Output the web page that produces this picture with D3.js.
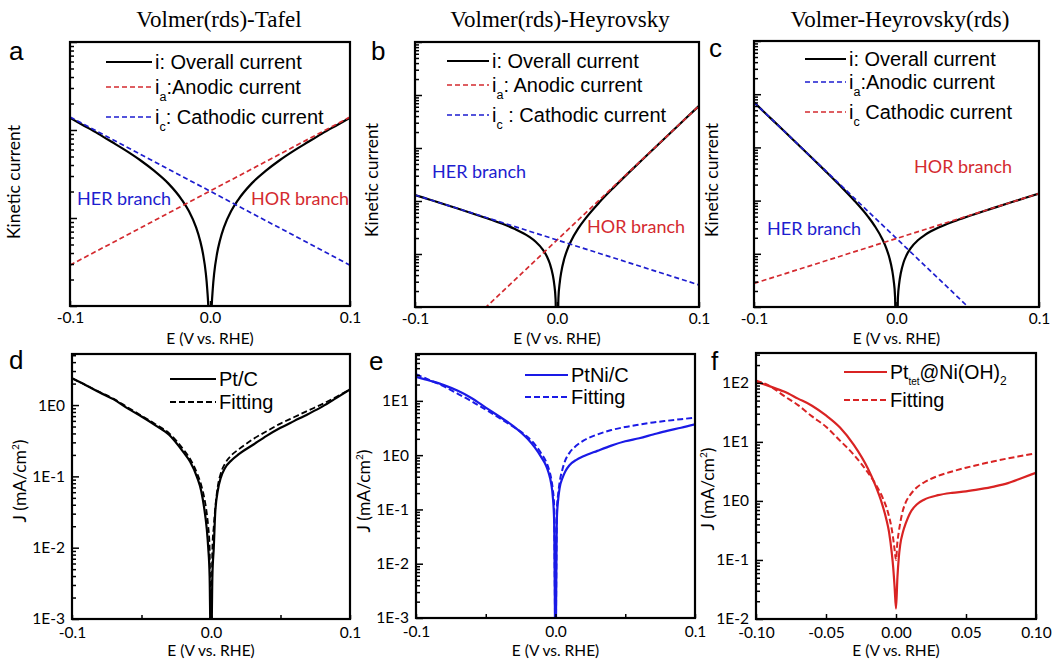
<!DOCTYPE html>
<html>
<head>
<meta charset="utf-8">
<script src="https://cdn.jsdelivr.net/npm/d3@7/dist/d3.min.js"></script>
<style>
  html, body { margin: 0; padding: 0; background: #fff; }
  svg { display: block; }
</style>
</head>
<body>
<svg id="fig" width="1052" height="663"></svg>
<script>
// ---------------- data ----------------
// electrode potential grid, V vs. RHE
const potential = [-0.1, -0.09, -0.08, -0.07, -0.06, -0.05, -0.04, -0.03, -0.02, -0.015, -0.01, -0.007, -0.005, -0.003, -0.002, -0.001, 0,
                   0.001, 0.002, 0.003, 0.005, 0.007, 0.01, 0.015, 0.02, 0.03, 0.04, 0.05, 0.06, 0.07, 0.08, 0.09, 0.1];

// kinetic model currents (arbitrary units)
const tafelOverall = [137.5, 112, 91, 73, 58.3, 45.6, 34.5, 24.9, 16.0, 11.9, 7.88, 5.49, 3.92, 2.36, 1.57, 0.78, 0.01,
                      0.78, 1.57, 2.36, 3.92, 5.49, 7.88, 11.9, 16.0, 24.9, 34.5, 45.6, 58.3, 73, 91, 112, 137.5];
const tafelAnodic = [[-0.1, 2.91], [0.1, 140.4]];
const tafelCathodic = [[-0.1, 140.4], [0.1, 2.91]];

const heyOverall = [129.9, 106.8, 87.8, 72.0, 58.9, 47.9, 38.5, 29.9, 21.5, 17.0, 12.1, 8.87, 6.55, 4.06, 2.76, 1.40, 0.01,
                    1.46, 2.98, 4.56, 7.93, 11.6, 17.8, 30.4, 46.5, 95.4, 180.7, 331.7, 600.8, 1082, 1939, 3478, 6230];
const heyAnodic = [[-0.1, 0.054], [0.1, 6234]];
const heyCathodic = [[-0.1, 130], [0.1, 2.61]];

const heyRdsOverall = [7041, 3904, 2163, 1196, 660.6, 362.3, 196.2, 102.9, 50.0, 32.5, 19.0, 12.4, 8.46, 4.85, 3.17, 1.55, 0.01,
                       1.49, 2.93, 4.31, 6.93, 9.39, 12.81, 17.97, 22.67, 31.5, 40.5, 50.4, 61.9, 75.5, 92.0, 111.9, 136];
const heyRdsAnodic = [[-0.1, 7044], [0.1, 0.0534]];
const heyRdsCathodic = [[-0.1, 2.77], [0.1, 136]];

// polarization data and fits, J in mA/cm2
const ptcMeasured = [2.37, 1.9, 1.5, 1.2, 0.9, 0.69, 0.52, 0.38, 0.22, 0.16, 0.097, 0.062, 0.037, 0.018, 0.01, 0.004, 0.0002,
                     0.004, 0.01, 0.03, 0.065, 0.095, 0.13, 0.17, 0.205, 0.275, 0.37, 0.48, 0.6, 0.75, 0.95, 1.25, 1.66];
const ptcFit = [2.37, 1.9, 1.52, 1.22, 0.93, 0.71, 0.54, 0.4, 0.24, 0.175, 0.11, 0.075, 0.052, 0.03, 0.02, 0.01, 0.0002,
                0.01, 0.02, 0.035, 0.075, 0.11, 0.15, 0.2, 0.24, 0.33, 0.43, 0.55, 0.68, 0.84, 1.03, 1.3, 1.66];

const ptniMeasured = [27.8, 23.5, 19.5, 15.3, 11.2, 7.5, 5.1, 3.4, 2.0, 1.4, 0.9, 0.66, 0.48, 0.29, 0.18, 0.065, 0.0002,
                      0.07, 0.16, 0.25, 0.38, 0.5, 0.65, 0.82, 0.95, 1.2, 1.5, 1.8, 2.05, 2.4, 2.8, 3.2, 3.7];
const ptniFit = [31, 24, 18.5, 13.5, 9.8, 6.9, 4.8, 3.3, 2.15, 1.6, 1.05, 0.78, 0.58, 0.36, 0.24, 0.12, 0.0002,
                 0.1, 0.2, 0.32, 0.55, 0.8, 1.1, 1.5, 1.85, 2.4, 2.9, 3.3, 3.65, 4.0, 4.3, 4.6, 4.9];

const ptNiOHMeasured = [105, 87, 71, 54, 41, 28, 17.5, 8.8, 3.5, 1.9, 0.9, 0.5, 0.3, 0.13, 0.075, 0.035, 0.015,
                        0.05, 0.11, 0.18, 0.3, 0.42, 0.62, 0.88, 1.05, 1.25, 1.37, 1.45, 1.58, 1.75, 2.0, 2.45, 3.0];
const ptNiOHFit = [110, 88, 60, 42, 27, 18, 10.5, 6.0, 3.0, 2.0, 1.2, 0.8, 0.55, 0.33, 0.23, 0.15, 0.1,
                   0.2, 0.3, 0.42, 0.7, 0.95, 1.25, 1.7, 2.05, 2.65, 3.15, 3.65, 4.15, 4.7, 5.25, 5.8, 6.4];

// axis ticks
const xTicksKinetic = [-0.1, 0, 0.1];
const xTicksPolar = [-0.1, -0.05, 0, 0.05, 0.1];

// ---------------- styles ----------------
const SERIF = "'Liberation Serif', 'Times New Roman', serif";
const ARIAL = "'Liberation Sans', Arial, sans-serif";
const HUMAN = "Lato, 'Open Sans', sans-serif";
const RED = "#d42a2f";
const BLUE = "#1d1dcf";
const BLUE_E = "#1a1ae6";
const RED_F = "#d92323";

const svg = d3.select("#fig");
const defs = svg.append("defs");

const withE = vals => d3.zip(potential, vals);
const isDecade = v => Math.abs(Math.log10(v) - Math.round(Math.log10(v))) < 1e-9;

function drawPanel(cfg) {
  const [x0, y0, x1, y1] = cfg.box;
  const g = svg.append("g");
  const x = d3.scaleLinear().domain([-0.1, 0.1]).range([x0, x1]);
  const y = d3.scaleLog().domain(cfg.yDomain).range([y1, y0]);

  defs.append("clipPath").attr("id", "clip-" + cfg.id)
    .append("rect").attr("x", x0).attr("y", y0).attr("width", x1 - x0).attr("height", y1 - y0);

  const plot = g.append("g").attr("clip-path", `url(#clip-${cfg.id})`);
  const line = d3.line().x(d => x(d[0])).y(d => y(d[1])).curve(d3.curveMonotoneX);
  cfg.series.forEach(s => {
    plot.append("path").datum(s.points)
      .attr("d", line)
      .attr("fill", "none")
      .attr("stroke", s.color)
      .attr("stroke-width", s.width)
      .attr("stroke-dasharray", s.dash || null)
      .attr("stroke-linejoin", "round");
  });

  // left axis: inward decade and sub-decade ticks
  const all = y.ticks();
  const majors = all.filter(isDecade);
  const minors = all.filter(v => !isDecade(v));
  const minorAxis = g.append("g").attr("transform", `translate(${x0},0)`)
    .call(d3.axisLeft(y).tickValues(minors).tickSizeInner(-4).tickSizeOuter(0).tickFormat(""));
  const majorAxis = g.append("g").attr("transform", `translate(${x0},0)`)
    .call(d3.axisLeft(y).tickValues(majors).tickSizeInner(-7).tickSizeOuter(0).tickPadding(7)
      .tickFormat(cfg.yLabels ? d => "1E" + Math.round(Math.log10(d)) : ""));

  // bottom axis
  const bottomAxis = g.append("g").attr("transform", `translate(0,${y1})`)
    .call(d3.axisBottom(x).tickValues(cfg.xTicks).tickSizeInner(-cfg.xTickLen).tickSizeOuter(0)
      .tickPadding(cfg.xPad).tickFormat(cfg.xFormat));

  [minorAxis, majorAxis, bottomAxis].forEach(a => {
    a.select(".domain").remove();
    a.selectAll("line").attr("stroke", "#000").attr("stroke-width", 1.5);
    a.selectAll("text").attr("fill", "#000").attr("font-family", HUMAN).attr("font-size", cfg.tickFont);
    a.attr("font-family", HUMAN).attr("font-size", cfg.tickFont);
  });

  // frame
  g.append("rect").attr("x", x0).attr("y", y0).attr("width", x1 - x0).attr("height", y1 - y0)
    .attr("fill", "none").attr("stroke", "#000").attr("stroke-width", 2.2);

  // axis titles
  g.append("text").attr("x", (x0 + x1) / 2).attr("y", cfg.xTitleY)
    .attr("text-anchor", "middle").attr("font-family", HUMAN).attr("font-size", 15.5)
    .text("E (V vs. RHE)");

  const yt = g.append("text").attr("transform", `translate(${cfg.yTitle[0]},${cfg.yTitle[1]}) rotate(-90)`)
    .attr("text-anchor", "middle").attr("font-family", HUMAN).attr("font-size", cfg.yTitleSize);
  if (cfg.yTitleText === "J") {
    yt.append("tspan").text("J (mA/cm");
    yt.append("tspan").attr("dy", -7).attr("font-size", 10).text("2");
    yt.append("tspan").attr("dy", 7).text(")");
  } else {
    yt.text(cfg.yTitleText);
  }

  // panel letter
  g.append("text").attr("x", cfg.letter[0]).attr("y", cfg.letter[1])
    .attr("font-family", ARIAL).attr("font-size", 26).text(cfg.id);

  // legend
  cfg.legend.forEach(r => {
    g.append("line").attr("x1", r.x1).attr("x2", r.x2).attr("y1", r.y).attr("y2", r.y)
      .attr("stroke", r.color).attr("stroke-width", r.width).attr("stroke-dasharray", r.dash || null);
    const t = g.append("text").attr("x", r.x2 + 3).attr("y", r.y + 7.2)
      .attr("font-family", ARIAL).attr("font-size", r.size || 20);
    r.parts.forEach(p => {
      const ts = t.append("tspan").text(p[0]);
      if (p[1] === "sub") ts.attr("dy", p[2] || 7).attr("font-size", p[3] || 12.5);
      if (p[1] === "back") ts.attr("dy", -(p[2] || 7));
    });
  });

  // annotations
  (cfg.notes || []).forEach(n => {
    g.append("text").attr("x", n.x).attr("y", n.y).attr("fill", n.color)
      .attr("font-family", HUMAN).attr("font-size", 18).text(n.text);
  });

  if (cfg.title) {
    g.append("text").attr("x", cfg.title[0]).attr("y", cfg.title[1]).attr("text-anchor", "middle")
      .attr("font-family", SERIF).attr("font-size", 23).text(cfg.title[2]);
  }
}

const fmt1 = d => d.toFixed(1);
const fmtPolar1 = d => (Math.abs(Math.abs(d) - 0.05) < 1e-9 ? "" : d.toFixed(1));
const fmt2 = d => d.toFixed(2);

const DASH_K = "5,3";
const DASH_P = "6,3";

// ---- (a) Volmer(rds)-Tafel ----
drawPanel({
  id: "a", box: [70, 42, 350, 306], yDomain: [1, 1000], yLabels: false,
  xTicks: xTicksKinetic, xTickLen: 5, xPad: 6, xFormat: fmt1, tickFont: 15.5, xTitleY: 344,
  yTitle: [20, 182], yTitleText: "Kinetic current", yTitleSize: 17.5,
  letter: [9, 60], title: [219, 27, "Volmer(rds)-Tafel"],
  series: [
    { points: withE(tafelOverall), color: "#000", width: 2.2 },
    { points: tafelAnodic, color: RED, width: 1.7, dash: DASH_K },
    { points: tafelCathodic, color: BLUE, width: 1.7, dash: DASH_K }
  ],
  legend: [
    { x1: 106, x2: 152, y: 62, color: "#000", width: 2.2, parts: [["i: Overall current"]] },
    { x1: 106, x2: 152, y: 87, color: RED, width: 1.7, dash: DASH_K, parts: [["i"], ["a", "sub"], [":Anodic current", "back"]] },
    { x1: 106, x2: 152, y: 117, color: BLUE, width: 1.7, dash: DASH_K, parts: [["i"], ["c", "sub"], [": Cathodic current", "back"]] }
  ],
  notes: [
    { x: 77, y: 205, color: BLUE, text: "HER branch" },
    { x: 251, y: 205, color: RED, text: "HOR branch" }
  ]
});

// ---- (b) Volmer(rds)-Heyrovsky ----
drawPanel({
  id: "b", box: [415, 42, 699, 307], yDomain: [1, 1e5], yLabels: false,
  xTicks: xTicksKinetic, xTickLen: 5, xPad: 6, xFormat: fmt1, tickFont: 15.5, xTitleY: 344,
  yTitle: [378, 180], yTitleText: "Kinetic current", yTitleSize: 17.5,
  letter: [371, 60], title: [560, 27, "Volmer(rds)-Heyrovsky"],
  series: [
    { points: withE(heyOverall), color: "#000", width: 2.2 },
    { points: heyAnodic, color: RED, width: 1.7, dash: DASH_K },
    { points: heyCathodic, color: BLUE, width: 1.7, dash: DASH_K }
  ],
  legend: [
    { x1: 447, x2: 489, y: 61, color: "#000", width: 2.2, parts: [["i: Overall current"]] },
    { x1: 447, x2: 489, y: 85, color: RED, width: 1.7, dash: DASH_K, parts: [["i"], ["a", "sub"], [": Anodic current", "back"]] },
    { x1: 447, x2: 489, y: 115, color: BLUE, width: 1.7, dash: DASH_K, parts: [["i"], ["c", "sub"], [" : Cathodic current", "back"]] }
  ],
  notes: [
    { x: 432, y: 178, color: BLUE, text: "HER branch" },
    { x: 587, y: 233, color: RED, text: "HOR branch" }
  ]
});

// ---- (c) Volmer-Heyrovsky(rds) ----
drawPanel({
  id: "c", box: [754, 41, 1039, 307], yDomain: [1, 1e5], yLabels: false,
  xTicks: xTicksKinetic, xTickLen: 5, xPad: 6, xFormat: fmt1, tickFont: 15.5, xTitleY: 344,
  yTitle: [718, 180], yTitleText: "Kinetic current", yTitleSize: 17.5,
  letter: [709, 57], title: [900, 27, "Volmer-Heyrovsky(rds)"],
  series: [
    { points: withE(heyRdsOverall), color: "#000", width: 2.2 },
    { points: heyRdsAnodic, color: BLUE, width: 1.7, dash: DASH_K },
    { points: heyRdsCathodic, color: RED, width: 1.7, dash: DASH_K }
  ],
  legend: [
    { x1: 805, x2: 846, y: 59, color: "#000", width: 2.2, parts: [["i: Overall current"]] },
    { x1: 805, x2: 846, y: 82, color: BLUE, width: 1.7, dash: DASH_K, parts: [["i"], ["a", "sub"], [":Anodic current", "back"]] },
    { x1: 805, x2: 846, y: 112, color: RED, width: 1.7, dash: DASH_K, parts: [["i"], ["c", "sub"], ["  Cathodic current", "back"]] }
  ],
  notes: [
    { x: 767, y: 235, color: BLUE, text: "HER branch" },
    { x: 914, y: 173, color: RED, text: "HOR branch" }
  ]
});

// ---- (d) Pt/C ----
drawPanel({
  id: "d", box: [72, 354, 350, 619], yDomain: [1e-3, 5.2], yLabels: true,
  xTicks: xTicksPolar, xTickLen: 4, xPad: 8, xFormat: fmtPolar1, tickFont: 15.5, xTitleY: 656,
  yTitle: [26, 481], yTitleText: "J", yTitleSize: 17.5,
  letter: [9, 369],
  series: [
    { points: withE(ptcMeasured), color: "#000", width: 2.2 },
    { points: withE(ptcFit), color: "#000", width: 1.8, dash: DASH_P }
  ],
  legend: [
    { x1: 170, x2: 216, y: 379, color: "#000", width: 2.2, parts: [["Pt/C"]] },
    { x1: 170, x2: 216, y: 402, color: "#000", width: 1.8, dash: DASH_P, parts: [["Fitting"]] }
  ]
});

// ---- (e) PtNi/C ----
drawPanel({
  id: "e", box: [416, 354, 695, 618], yDomain: [1e-3, 73], yLabels: true,
  xTicks: xTicksPolar, xTickLen: 4, xPad: 8, xFormat: fmtPolar1, tickFont: 15.5, xTitleY: 656,
  yTitle: [370, 491], yTitleText: "J", yTitleSize: 17.5,
  letter: [369, 370],
  series: [
    { points: withE(ptniMeasured), color: BLUE_E, width: 2.2 },
    { points: withE(ptniFit), color: BLUE_E, width: 2, dash: DASH_P }
  ],
  legend: [
    { x1: 525, x2: 568, y: 375, color: BLUE_E, width: 2.2, parts: [["PtNi/C"]] },
    { x1: 525, x2: 568, y: 397, color: BLUE_E, width: 2, dash: DASH_P, parts: [["Fitting"]] }
  ]
});

// ---- (f) Pt_tet@Ni(OH)2 ----
drawPanel({
  id: "f", box: [756, 353, 1036, 619], yDomain: [1e-2, 320], yLabels: true,
  xTicks: xTicksPolar, xTickLen: 5, xPad: 8, xFormat: fmt2, tickFont: 15.5, xTitleY: 656,
  yTitle: [714, 489], yTitleText: "J", yTitleSize: 17.5,
  letter: [711, 370],
  series: [
    { points: withE(ptNiOHMeasured), color: RED_F, width: 2.2 },
    { points: withE(ptNiOHFit), color: RED_F, width: 2, dash: DASH_P }
  ],
  legend: [
    { x1: 844, x2: 887, y: 372, color: RED_F, width: 2.2, size: 19.5,
      parts: [["Pt"], ["tet", "sub", 6, 10], ["@Ni(OH)", "back", 6], ["2", "sub", 6, 12]] },
    { x1: 844, x2: 887, y: 400, color: RED_F, width: 2, dash: DASH_P, parts: [["Fitting"]] }
  ]
});
</script>
</body>
</html>
